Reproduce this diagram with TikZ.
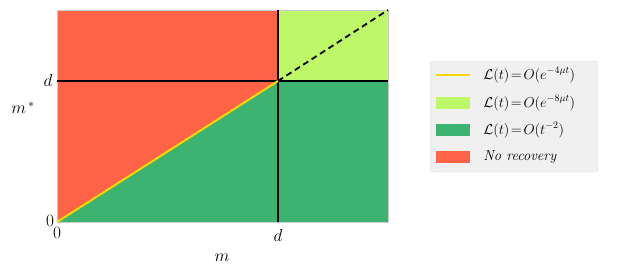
\documentclass[tikz,border=0pt]{standalone}
\usepackage{amsmath}
\usetikzlibrary{positioning}

\definecolor{norecovery}{RGB}{255,99,71}
\definecolor{fastrate}{RGB}{190,247,104}
\definecolor{slowrate}{RGB}{60,179,113}
\definecolor{boundary}{RGB}{255,215,0}

\begin{document}
\begin{tikzpicture}[x=1pt,y=1pt,node distance=13pt,
    divider/.style={black,line width=1.8pt},
    axlabel/.style={inner sep=0pt,font=\fontsize{17}{20}\selectfont},
    patch/.style={minimum width=34pt,minimum height=12pt,inner sep=0pt},
    entry/.style={inner sep=0pt,anchor=west,font=\fontsize{14.5}{17}\selectfont}]

    \useasboundingbox (0,0) rectangle (623,277);

    % Set coordinates
    \coordinate (o) at (57,55);
    \coordinate (dd) at (278,196);
    \coordinate (top) at (388,267);
    \coordinate (dx) at (278,55);
    \coordinate (dy) at (57,196);

    % Draw regions
    \fill[norecovery] (o) rectangle (278,267);
    \fill[fastrate] (278,196) rectangle (top);
    \fill[slowrate] (o) -- (dd) -- (388,196) -- (388,55) -- cycle;
    \draw[gray!40,line width=0.6pt] (o) rectangle (top);

    % Draw lines
    \draw[divider] (dy) -- (388,196);
    \draw[divider] (dx) -- (278,267);
    \draw[divider,dashed,dash pattern=on 6pt off 4pt] (dd) -- (top);
    \draw[boundary,line width=2pt] (o) -- (dd);

    % Axis labels
    \node[axlabel] (ylab0) at (50,56) {$0$};
    \node[axlabel] (xlab0) at (57,44) {$0$};
    \node[axlabel] (xlabd) at (278,42) {$d$};
    \node[axlabel] (ylabd) at (48,197) {$d$};
    \node[axlabel] (xname) at (222,19) {$m$};
    \node[axlabel] (yname) at (23,169) {$m^{\,*}$};

    % Legend
    \node[draw=gray!25,fill=gray!12,rounded corners=3pt,minimum width=168pt,
          minimum height=111pt] (legend) at (514,160.5) {};
    \node[patch] (h1) at (453,202) {};
    \draw[boundary,line width=2.2pt] (h1.west) -- (h1.east);
    \node[patch,fill=fastrate] (h2) at (453,174) {};
    \node[patch,fill=slowrate] (h3) at (453,147) {};
    \node[patch,fill=norecovery] (h4) at (453,120) {};
    \node[entry,right=of h1] (t1) {$\mathcal{L}(t)\!=\!O(e^{-4\mu t})$};
    \node[entry,right=of h2] (t2) {$\mathcal{L}(t)\!=\!O(e^{-8\mu t})$};
    \node[entry,right=of h3] (t3) {$\mathcal{L}(t)\!=\!O(t^{-2})$};
    \node[entry,right=of h4] (t4) {\textit{No recovery}};
\end{tikzpicture}
\end{document}
